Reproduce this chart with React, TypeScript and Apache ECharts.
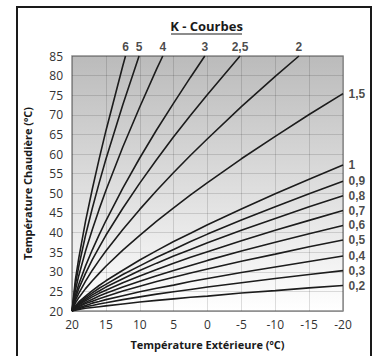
import React, { useEffect, useRef } from "react";
import * as echarts from "echarts";

// Outdoor temperatures (x) at which the curves were read
const outdoorTemps = [20, 19.5, 19, 18, 17, 16, 15, 12.5, 10, 7.5, 5, 2.5, 0, -5, -10, -15, -20];

// Boiler temperatures read for each K curve (aligned with outdoorTemps, truncated at the top)
const k02 = [20, 20.2, 20.4, 20.7, 20.9, 21.1, 21.3, 21.8, 22.3, 22.7, 23.1, 23.5, 23.8, 24.6, 25.2, 25.9, 26.5];
const k03 = [20, 20.4, 20.6, 21.1, 21.4, 21.8, 22.1, 22.9, 23.6, 24.3, 24.9, 25.5, 26.1, 27.2, 28.3, 29.3, 30.3];
const k04 = [20, 20.5, 20.8, 21.4, 22.0, 22.4, 22.9, 23.9, 24.9, 25.8, 26.6, 27.5, 28.3, 29.8, 31.2, 32.6, 34.0];
const k05 = [20, 20.6, 21.1, 21.9, 22.5, 23.1, 23.7, 25.1, 26.3, 27.5, 28.6, 29.7, 30.7, 32.7, 34.5, 36.4, 38.1];
const k06 = [20, 20.8, 21.3, 22.2, 23.0, 23.8, 24.5, 26.1, 27.6, 29.0, 30.3, 31.6, 32.9, 35.3, 37.5, 39.7, 41.8];
const k07 = [20, 20.9, 21.6, 22.6, 23.6, 24.5, 25.3, 27.2, 28.9, 30.6, 32.2, 33.7, 35.1, 37.9, 40.6, 43.1, 45.6];
const k08 = [20, 21.1, 21.8, 23.0, 24.1, 25.1, 26.1, 28.2, 30.3, 32.2, 34.0, 35.7, 37.4, 40.6, 43.6, 46.6, 49.4];
const k09 = [20, 21.2, 22.0, 23.4, 24.6, 25.8, 26.8, 29.3, 31.5, 33.7, 35.7, 37.7, 39.6, 43.2, 46.6, 49.9, 53.1];
const k10 = [20, 21.3, 22.3, 23.8, 25.2, 26.5, 27.7, 30.4, 33.0, 35.4, 37.7, 39.8, 42.0, 46.0, 49.9, 53.6, 57.2];
const k15 = [20, 22.0, 23.4, 25.7, 27.7, 29.6, 31.4, 35.5, 39.3, 42.9, 46.3, 49.6, 52.7, 58.8, 64.5, 70.1, 75.4];
const k20 = [20, 22.7, 24.5, 27.6, 30.4, 32.9, 35.3, 40.8, 45.9, 50.7, 55.3, 59.7, 63.9, 72.1, 79.8];
const k25 = [20, 23.3, 25.7, 29.6, 33.1, 36.2, 39.3, 46.2, 52.6, 58.6, 64.4, 69.9, 75.2];
const k30 = [20, 24.0, 26.8, 31.5, 35.6, 39.4, 43.0, 51.3, 59.0, 66.2, 73.0, 79.6];
const k40 = [20, 25.3, 29.0, 35.3, 40.8, 45.9, 50.7, 61.8, 72.0, 81.7];
const k50 = [20, 26.7, 31.4, 39.3, 46.2, 52.6, 58.7, 72.6];
const k60 = [20, 28.0, 33.5, 42.9, 51.1, 58.7, 65.9, 82.5];

// Curve labels (French decimal comma)
const curveNames = ["0,2", "0,3", "0,4", "0,5", "0,6", "0,7", "0,8", "0,9", "1", "1,5", "2", "2,5", "3", "4", "5", "6"];
const curveTemps = [k02, k03, k04, k05, k06, k07, k08, k09, k10, k15, k20, k25, k30, k40, k50, k60];
// Outdoor temperature where steep curves leave the top of the chart (85 °C); null = reaches -20
const topCrossings = [null, null, null, null, null, null, null, null, null, null, -13.5, -4.8, 0.4, 6.6, 10.1, 12.1];

const yTicks = { min: 20, max: 85, interval: 5 };
const xTicks = { min: -20, max: 20, interval: 5 };

const FONT = "Open Sans";
const LABEL_FONT = "Liberation Sans";

export default function App() {
  const ref = useRef<HTMLDivElement>(null);

  useEffect(() => {
    const chart = echarts.init(ref.current as HTMLDivElement, null, { renderer: "svg" });

    const lineSeries: any[] = [];
    const labelData: any[] = [];
    curveTemps.forEach((temps, i) => {
      const pts: number[][] = temps.map((t, j) => [outdoorTemps[j], t]);
      const cross = topCrossings[i];
      if (cross !== null) pts.push([cross, yTicks.max]);
      lineSeries.push({
        type: "line",
        name: curveNames[i],
        data: pts,
        symbol: "none",
        silent: true,
        lineStyle: { color: "#1c1c1c", width: 1.6 },
        z: 3,
      });
      const last = pts[pts.length - 1];
      const isTop = cross !== null;
      labelData.push({
        value: last,
        label: {
          show: true,
          formatter: curveNames[i],
          position: isTop ? "top" : "right",
          distance: isTop ? 3 : 5,
          color: "#1a1a1a",
          fontFamily: LABEL_FONT,
          fontWeight: "bold",
          fontSize: 12,
          lineHeight: 12,
        },
      });
    });

    chart.setOption({
      animation: false,
      backgroundColor: "#ffffff",
      textStyle: { fontFamily: FONT },
      grid: {
        left: 72,
        top: 56,
        width: 271,
        height: 255,
        show: true,
        borderColor: "#8c8c8c",
        borderWidth: 1.5,
        backgroundColor: new echarts.graphic.LinearGradient(0, 0, 0, 1, [
          { offset: 0, color: "#bbbbbb" },
          { offset: 0.55, color: "#e0e0e0" },
          { offset: 1, color: "#ffffff" },
        ]),
      },
      xAxis: {
        type: "value",
        inverse: true,
        min: xTicks.min,
        max: xTicks.max,
        interval: xTicks.interval,
        name: "Température Extérieure (ºC)",
        nameLocation: "middle",
        nameGap: 28,
        nameTextStyle: { fontFamily: FONT, fontWeight: "bold", fontSize: 11, color: "#1a1a1a" },
        axisLine: { show: false },
        axisTick: { show: false },
        axisLabel: { fontFamily: FONT, fontSize: 12, color: "#333", margin: 7 },
        splitLine: { show: true, lineStyle: { color: "rgba(0,0,0,0.13)", width: 1 } },
      },
      yAxis: {
        type: "value",
        min: yTicks.min,
        max: yTicks.max,
        interval: yTicks.interval,
        name: "Température Chaudière (ºC)",
        nameLocation: "middle",
        nameGap: 39,
        nameTextStyle: { fontFamily: FONT, fontWeight: "bold", fontSize: 11, color: "#1a1a1a" },
        axisLine: { show: false },
        axisTick: { show: false },
        axisLabel: { fontFamily: FONT, fontSize: 12, color: "#333", margin: 9 },
        splitLine: { show: true, lineStyle: { color: "rgba(0,0,0,0.13)", width: 1 } },
      },
      graphic: [
        {
          type: "rect",
          shape: { x: 17, y: 7, width: 354, height: 360 },
          style: { fill: "none", stroke: "#1a1a1a", lineWidth: 2 },
          silent: true,
        },
        {
          type: "text",
          x: 206.5,
          y: 26,
          style: {
            text: "K - Courbes",
            fontFamily: FONT,
            fontWeight: "bold",
            fontSize: 13,
            fill: "#1a1a1a",
            textAlign: "center",
            textVerticalAlign: "middle",
          },
        },
        {
          type: "line",
          shape: { x1: 171, y1: 34, x2: 242, y2: 34 },
          style: { stroke: "#1a1a1a", lineWidth: 1.2 },
        },
      ],
      series: [
        ...lineSeries,
        {
          type: "scatter",
          name: "labels",
          data: labelData,
          symbolSize: 1,
          silent: true,
          itemStyle: { color: "rgba(0,0,0,0)" },
          z: 4,
        },
      ],
    });

    return () => chart.dispose();
  }, []);

  return (
    <div
      ref={ref}
      style={{ position: "absolute", left: 0, top: 0, width: 377, height: 356 }}
    />
  );
}
